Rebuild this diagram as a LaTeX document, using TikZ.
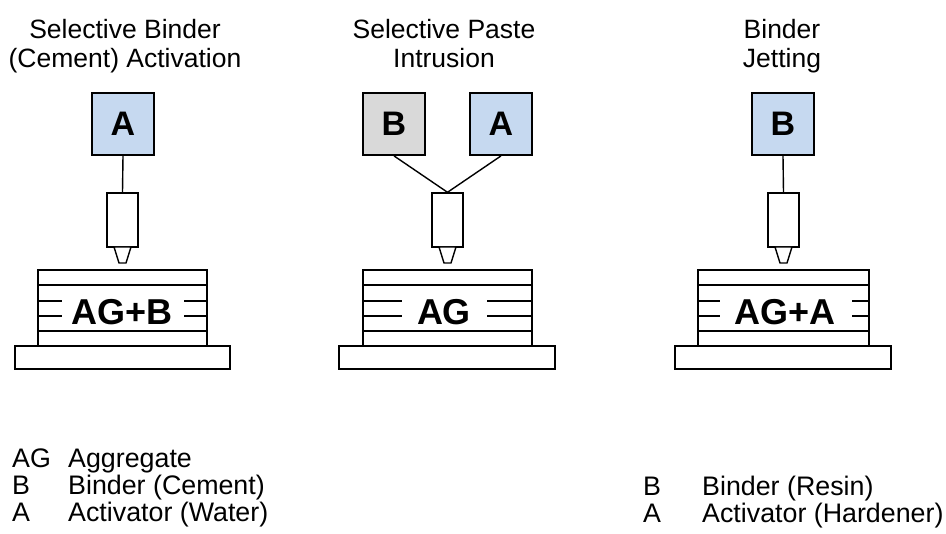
\documentclass[tikz,border=0pt]{standalone}
\usepackage{fontspec}
\setmainfont{Liberation Sans}
\definecolor{lblue}{HTML}{C6D9F0}
\definecolor{lgray}{HTML}{D9D9D9}
\begin{document}
\begin{tikzpicture}[x=1pt,y=-1pt,
  boxnode/.style={draw, line width=1.8pt, minimum width=62pt, minimum height=62pt, inner sep=0pt, font=\bfseries\fontsize{34}{34}\selectfont},
  noz/.style={draw, line width=1.4pt, fill=white, minimum width=31pt, minimum height=54pt, inner sep=0pt},
  conn/.style={line width=1.4pt},
  thick line/.style={line width=1.8pt},
  title/.style={align=center, anchor=north, inner sep=0pt, font=\fontsize{26.5}{29}\selectfont},
  stacktxt/.style={anchor=base, inner sep=0pt, font=\bfseries\fontsize{36}{36}\selectfont},
  leg/.style={anchor=base west, inner sep=0pt, font=\fontsize{26.8}{27}\selectfont}
]
\useasboundingbox (0,0) rectangle (946,534);

% Titles
\node[title] (t1) at (125,19) {Selective Binder\\(Cement) Activation};
\node[title] (t2) at (444,19) {Selective Paste\\Intrusion};
\node[title] (t3) at (782,19) {Binder\\Jetting};

% ---------- Panel 1 ----------
\node[boxnode, fill=lblue] (a1) at (123,124) {A};
\node[noz] (n1) at (122.5,220) {};
\draw[conn] (a1.south) -- (n1.north);
\draw[conn, fill=white] (114,247) -- (131,247) -- (126,263) -- (119,263) -- cycle;
\draw[thick line] (38,270) rectangle (207,346);
\draw[thick line] (38,285) -- (207,285) (38,331) -- (207,331);
\draw[thick line] (38,301) -- (62,301) (184,301) -- (207,301);
\draw[thick line] (38,316) -- (62,316) (184,316) -- (207,316);
\node[stacktxt] (s1) at (122,325) {AG+B};
\draw[thick line] (15,346) rectangle (230,369);

% ---------- Panel 2 ----------
\node[boxnode, fill=lgray] (b2) at (394,124) {B};
\node[boxnode, fill=lblue] (a2) at (501,124) {A};
\node[noz] (n2) at (447.5,220) {};
\draw[conn] (b2.south) -- (n2.north);
\draw[conn] (a2.south) -- (n2.north);
\draw[conn, fill=white] (439,247) -- (456,247) -- (451,263) -- (444,263) -- cycle;
\draw[thick line] (363,270) rectangle (532,346);
\draw[thick line] (363,285) -- (532,285) (363,331) -- (532,331);
\draw[thick line] (363,301) -- (402,301) (487,301) -- (532,301);
\draw[thick line] (363,316) -- (402,316) (487,316) -- (532,316);
\node[stacktxt] (s2) at (444,325) {AG};
\draw[thick line] (339,346) rectangle (555,369);

% ---------- Panel 3 ----------
\node[boxnode, fill=lblue] (b3) at (783,124) {B};
\node[noz] (n3) at (783.5,220) {};
\draw[conn] (b3.south) -- (n3.north);
\draw[conn, fill=white] (775,247) -- (792,247) -- (787,263) -- (780,263) -- cycle;
\draw[thick line] (698,270) rectangle (869,346);
\draw[thick line] (698,285) -- (869,285) (698,331) -- (869,331);
\draw[thick line] (698,301) -- (720,301) (852,301) -- (869,301);
\draw[thick line] (698,316) -- (720,316) (852,316) -- (869,316);
\node[stacktxt] (s3) at (785,325) {AG+A};
\draw[thick line] (675,346) rectangle (891,369);

% ---------- Legends ----------
\node[leg] (l1a) at (12,468) {AG};
\node[leg] (l1b) at (68,468) {Aggregate};
\node[leg] (l2a) at (12,495) {B};
\node[leg] (l2b) at (68,495) {Binder (Cement)};
\node[leg] (l3a) at (12,522) {A};
\node[leg] (l3b) at (68,522) {Activator (Water)};

\node[leg] (r1a) at (643,496) {B};
\node[leg] (r1b) at (702,496) {Binder (Resin)};
\node[leg] (r2a) at (643,523) {A};
\node[leg] (r2b) at (702,523) {Activator (Hardener)};
\end{tikzpicture}
\end{document}
